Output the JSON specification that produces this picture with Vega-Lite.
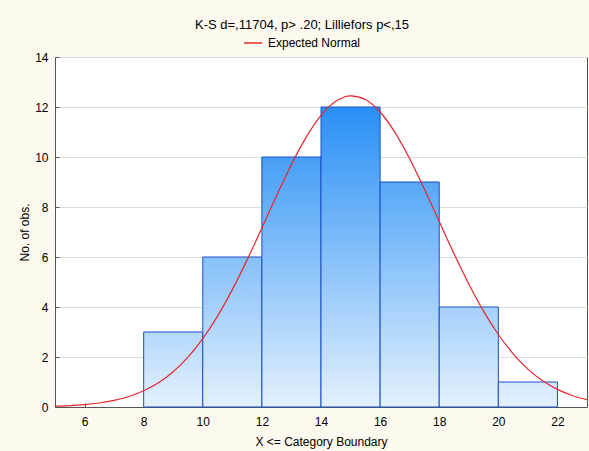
{
  "$schema": "https://vega.github.io/schema/vega-lite/v6.json",
  "width": 532,
  "height": 350,
  "autosize": "none",
  "padding": {"left": 55, "top": 57, "right": 2, "bottom": 44},
  "background": "#fdf9ef",
  "title": {
    "text": "K-S d=,11704, p> .20; Lilliefors p<,15",
    "font": "Liberation Sans",
    "fontSize": 13,
    "fontWeight": "normal",
    "color": "#000000",
    "anchor": "middle",
    "dx": -19,
    "dy": 7,
    "offset": 8
  },
  "config": {
    "view": {"stroke": "#555555", "strokeWidth": 1, "fill": "#ffffff"},
    "axis": {
      "labelFont": "Liberation Sans",
      "labelFontSize": 12,
      "labelColor": "#000000",
      "titleFont": "Liberation Sans",
      "titleFontSize": 12,
      "titleFontWeight": "normal",
      "titleColor": "#000000",
      "domainColor": "#555555",
      "tickColor": "#555555",
      "gridColor": "#dcdcdc"
    }
  },
  "layer": [
    {
      "data": {
        "values": [
          {"bin_start": 8, "bin_end": 10, "count": 3},
          {"bin_start": 10, "bin_end": 12, "count": 6},
          {"bin_start": 12, "bin_end": 14, "count": 10},
          {"bin_start": 14, "bin_end": 16, "count": 12},
          {"bin_start": 16, "bin_end": 18, "count": 9},
          {"bin_start": 18, "bin_end": 20, "count": 4},
          {"bin_start": 20, "bin_end": 22, "count": 1}
        ]
      },
      "mark": {"type": "bar", "stroke": "#1a4fc4", "strokeWidth": 1},
      "encoding": {
        "x": {
          "field": "bin_start",
          "type": "quantitative",
          "scale": {"domain": [5, 23], "nice": false, "zero": false},
          "axis": {
            "title": "X <= Category Boundary",
            "values": [6, 8, 10, 12, 14, 16, 18, 20, 22],
            "grid": false,
            "tickSize": -4,
            "labelPadding": 13,
            "titlePadding": 9
          }
        },
        "x2": {"field": "bin_end"},
        "y": {
          "field": "count",
          "type": "quantitative",
          "scale": {"domain": [0, 14], "nice": false},
          "axis": {
            "title": "No. of obs.",
            "values": [0, 2, 4, 6, 8, 10, 12, 14],
            "grid": true,
            "tickSize": -4,
            "labelPadding": 11,
            "titlePadding": 3
          }
        },
        "y2": {"datum": 0},
        "fill": {
          "condition": [
            {"test": "datum.count == 12", "value": {"gradient": "linear", "x1": 0, "y1": 0, "x2": 0, "y2": 1, "stops": [{"offset": 0, "color": "#288ff5"}, {"offset": 1, "color": "#e4f1fd"}]}},
            {"test": "datum.count == 10", "value": {"gradient": "linear", "x1": 0, "y1": 0, "x2": 0, "y2": 1, "stops": [{"offset": 0, "color": "#479ff6"}, {"offset": 1, "color": "#e4f1fd"}]}},
            {"test": "datum.count == 9", "value": {"gradient": "linear", "x1": 0, "y1": 0, "x2": 0, "y2": 1, "stops": [{"offset": 0, "color": "#57a8f7"}, {"offset": 1, "color": "#e4f1fd"}]}},
            {"test": "datum.count == 6", "value": {"gradient": "linear", "x1": 0, "y1": 0, "x2": 0, "y2": 1, "stops": [{"offset": 0, "color": "#86c0f9"}, {"offset": 1, "color": "#e4f1fd"}]}},
            {"test": "datum.count == 4", "value": {"gradient": "linear", "x1": 0, "y1": 0, "x2": 0, "y2": 1, "stops": [{"offset": 0, "color": "#a5d0fa"}, {"offset": 1, "color": "#e4f1fd"}]}},
            {"test": "datum.count == 3", "value": {"gradient": "linear", "x1": 0, "y1": 0, "x2": 0, "y2": 1, "stops": [{"offset": 0, "color": "#b5d8fb"}, {"offset": 1, "color": "#e4f1fd"}]}}
          ],
          "value": {"gradient": "linear", "x1": 0, "y1": 0, "x2": 0, "y2": 1, "stops": [{"offset": 0, "color": "#d4e9fc"}, {"offset": 1, "color": "#e4f1fd"}]}
        }
      }
    },
    {
      "data": {
        "values": [
          {"x": 5, "y": 0.031}, {"x": 5.5, "y": 0.055}, {"x": 6, "y": 0.096}, {"x": 6.5, "y": 0.161},
          {"x": 7, "y": 0.264}, {"x": 7.5, "y": 0.42}, {"x": 8, "y": 0.648}, {"x": 8.5, "y": 0.971},
          {"x": 9, "y": 1.413}, {"x": 9.5, "y": 1.995}, {"x": 10, "y": 2.734}, {"x": 10.5, "y": 3.637},
          {"x": 11, "y": 4.695}, {"x": 11.5, "y": 5.885}, {"x": 12, "y": 7.161}, {"x": 12.5, "y": 8.459},
          {"x": 13, "y": 9.698}, {"x": 13.5, "y": 10.793}, {"x": 14, "y": 11.661}, {"x": 14.5, "y": 12.228},
          {"x": 15, "y": 12.448}, {"x": 15.5, "y": 12.301}, {"x": 16, "y": 11.8}, {"x": 16.5, "y": 10.987},
          {"x": 17, "y": 9.932}, {"x": 17.5, "y": 8.714}, {"x": 18, "y": 7.421}, {"x": 18.5, "y": 6.135},
          {"x": 19, "y": 4.924}, {"x": 19.5, "y": 3.836}, {"x": 20, "y": 2.901}, {"x": 20.5, "y": 2.129},
          {"x": 21, "y": 1.517}, {"x": 21.5, "y": 1.049}, {"x": 22, "y": 0.705}, {"x": 22.5, "y": 0.459},
          {"x": 23, "y": 0.291}
        ]
      },
      "mark": {"type": "line", "interpolate": "monotone", "strokeWidth": 1.2},
      "encoding": {
        "x": {"field": "x", "type": "quantitative"},
        "y": {"field": "y", "type": "quantitative"},
        "color": {
          "datum": "Expected Normal",
          "scale": {"range": ["#e8262e"]},
          "legend": {
            "title": null,
            "orient": "none",
            "legendX": 188,
            "legendY": -24,
            "symbolType": "stroke",
            "symbolSize": 324,
            "symbolStrokeWidth": 1.5,
            "labelFont": "Liberation Sans",
            "labelFontSize": 12,
            "labelColor": "#000000",
            "labelOffset": 5
          }
        }
      }
    }
  ]
}
